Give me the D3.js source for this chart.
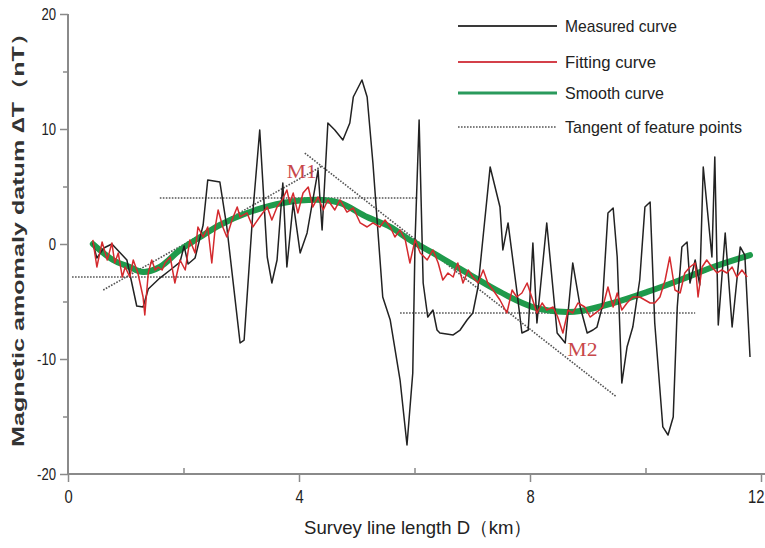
<!DOCTYPE html>
<html>
<head>
<meta charset="utf-8">
<script src="https://cdn.jsdelivr.net/npm/d3@7"></script>
<style>
  body { margin: 0; background: #fff; }
  svg { display: block; }
  text { font-family: "Liberation Sans Narrow", "Arial Narrow", "Liberation Sans", Arial, sans-serif; fill: #222; }
</style>
</head>
<body>
<svg id="chart"></svg>
<script>
// survey line positions (km) and measured anomaly (nT)
const measuredX = [0.43,0.50,0.62,0.76,1.02,1.19,1.30,1.39,1.59,1.77,1.94,2.01,2.08,2.20,2.34,2.42,2.63,2.75,2.98,3.05,
  3.20,3.32,3.45,3.53,3.62,3.72,3.79,3.90,4.02,4.14,4.33,4.40,4.50,4.62,4.76,4.88,4.94,5.09,5.18,5.28,
  5.45,5.58,5.75,5.87,5.97,6.01,6.08,6.15,6.23,6.32,6.39,6.44,6.67,6.79,6.91,7.01,7.10,7.17,7.31,7.48,
  7.53,7.62,7.77,7.86,7.97,8.05,8.12,8.29,8.47,8.61,8.74,8.87,8.99,9.09,9.16,9.25,9.35,9.44,9.51,9.59,
  9.68,9.78,9.90,9.99,10.08,10.16,10.30,10.39,10.48,10.55,10.63,10.72,10.77,10.86,10.94,11.00,11.15,11.20,11.26,11.38,
  11.50,11.64,11.72,11.81];
const measuredY = [0.09,-1.22,-0.35,0.0,-1.39,-5.39,-5.48,-3.91,-2.96,-2.26,-1.57,-0.17,-1.74,-1.22,1.65,5.57,5.39,1.48,-8.61,-8.35,
  2.70,9.91,-1.13,-3.39,-1.39,5.30,-2.0,3.57,-0.78,0.96,6.43,1.22,10.52,9.91,9.04,10.52,12.78,14.26,12.78,7.04,
  -4.61,-6.61,-11.83,-17.48,-11.22,0.35,10.78,-3.39,-6.35,-5.74,-7.48,-7.74,-7.91,-7.48,-6.61,-6.0,-3.74,-0.26,6.70,3.22,
  -0.52,1.83,-4.0,-7.74,-7.48,0.09,-6.87,1.83,-7.74,-8.61,-1.65,-5.48,-7.74,-7.48,-7.22,-5.48,2.70,3.13,-1.13,-12.09,
  -8.96,-7.22,-3.13,3.22,3.65,-6.87,-15.91,-16.61,-15.04,-5.48,-0.26,0.17,-3.39,-1.39,-3.57,6.70,-1.13,7.57,-7.04,0.96,
  -7.22,-0.26,-0.96,-9.83];

// fitting curve
const fittingX = [0.43,0.50,0.59,0.68,0.76,0.81,0.87,0.94,0.99,1.07,1.13,1.21,1.30,1.33,1.39,1.45,1.51,1.56,1.63,1.68,
  1.77,1.85,1.94,2.03,2.11,2.20,2.25,2.34,2.42,2.49,2.55,2.60,2.68,2.75,2.84,2.93,2.98,3.10,3.20,3.32,
  3.45,3.53,3.62,3.71,3.79,3.84,3.90,3.98,4.07,4.16,4.24,4.33,4.42,4.50,4.62,4.71,4.83,4.94,5.06,5.18,
  5.28,5.40,5.49,5.58,5.66,5.75,5.84,5.92,6.01,6.10,6.22,6.32,6.41,6.49,6.58,6.67,6.75,6.84,6.93,7.01,
  7.10,7.19,7.27,7.36,7.48,7.60,7.69,7.77,7.86,7.95,8.03,8.12,8.21,8.29,8.40,8.48,8.57,8.66,8.74,8.83,
  8.95,9.04,9.16,9.26,9.35,9.44,9.51,9.59,9.68,9.78,9.90,9.99,10.08,10.16,10.25,10.34,10.42,10.51,10.60,10.68,
  10.77,10.86,10.91,10.98,11.06,11.15,11.24,11.32,11.41,11.50,11.58,11.67,11.76];
const fittingY = [0.35,-2.0,0.17,-1.39,0.09,-1.65,-0.78,-2.87,-2.0,-2.87,-1.39,-2.52,-4.61,-6.17,-2.52,-1.39,-2.26,-2.0,-2.26,-1.65,
  -1.13,-3.39,-1.39,-2.26,0.35,-0.78,1.48,0.61,1.48,-1.65,1.48,2.96,1.48,0.61,2.09,3.22,2.35,2.70,1.48,2.35,
  3.22,2.09,3.22,3.83,4.70,3.57,4.43,2.70,4.43,4.96,3.22,4.09,2.96,3.83,2.96,3.83,2.78,3.13,1.83,1.48,
  1.83,1.48,2.09,1.48,0.61,1.22,0.35,-1.65,0.35,-0.78,-1.39,-0.52,-1.65,-3.13,-2.52,-2.87,-1.65,-3.39,-2.26,-2.87,
  -3.39,-2.26,-3.39,-4.0,-4.87,-6.0,-4.0,-4.61,-4.26,-3.39,-4.61,-6.0,-5.13,-5.74,-5.48,-6.35,-7.74,-5.74,-6.0,-5.13,
  -5.48,-6.35,-5.91,-5.48,-3.74,-5.48,-4.26,-5.74,-5.13,-4.61,-4.61,-4.87,-5.13,-5.13,-4.61,-3.13,-1.13,-4.0,-4.26,-2.52,
  -2.0,-1.65,-4.61,-2.0,-1.39,-2.0,-2.52,-2.26,-2.52,-2.0,-2.87,-2.26,-2.87];

// smooth curve
const smoothX = [0.43,0.78,1.07,1.30,1.59,1.94,2.29,2.63,3.10,3.72,4.42,4.71,5.18,5.58,5.92,6.32,6.91,7.48,8.05,8.64,8.87,9.44,10.03,10.60,11.17,11.81];
const smoothY = [0.0,-1.39,-2.0,-2.43,-2.0,-0.52,0.61,1.65,2.70,3.57,3.83,3.57,2.35,1.48,0.35,-0.78,-2.52,-4.17,-5.48,-5.91,-5.83,-5.13,-4.17,-3.13,-2.0,-0.96];

// tangent lines of feature points: [x1, y1, x2, y2]
const tangents = [
  [0.07, -2.87, 2.80, -2.87],
  [0.61, -4.0, 4.40, 6.78],
  [1.59, 4.0, 6.06, 4.0],
  [4.10, 7.91, 9.50, -13.3],
  [5.75, -6.0, 10.86, -6.0]
];
const featureLabels = [
  { text: "M1", x: 3.79, y: 5.75 },
  { text: "M2", x: 8.65, y: -9.75 }
];

const xTicks = [0, 2, 4, 6, 8, 10, 12];
const yTicks = [-20, -15, -10, -5, 0, 5, 10, 15, 20];
const legendNames = ["Measured curve", "Fitting curve", "Smooth curve", "Tangent of feature points"];

const width = 765;
const height = 548;

const svg = d3.select("#chart").attr("width", width).attr("height", height);

const x = d3.scaleLinear().domain([0, 12]).range([68, 761]);
const y = d3.scaleLinear().domain([-20, 20]).range([474, 14]);

const axisColor = "#8a8a8a";

// y axis
const yAxis = svg.append("g")
  .attr("transform", `translate(${x(0)},0)`)
  .call(d3.axisLeft(y).tickValues(yTicks).tickSize(7)
    .tickFormat(d => (d % 10 === 0 ? d : "")));
yAxis.select(".domain").attr("stroke", axisColor).attr("stroke-width", 2).attr("d", `M0,${y(20)}V${y(-20)}`);
yAxis.selectAll(".tick line").attr("stroke", axisColor).attr("stroke-width", 1.5)
  .attr("x2", d => (d % 10 === 0 ? -8 : -5));
yAxis.selectAll(".tick text")
  .attr("x", 0).attr("dy", null).attr("y", 0)
  .attr("transform", "translate(-12,5) scale(0.82,1)")
  .style("font-size", "16px");

// x axis
const xAxis = svg.append("g")
  .attr("transform", `translate(0,${y(-20)})`)
  .call(d3.axisBottom(x).tickValues(xTicks).tickSize(7)
    .tickFormat(d => (d % 4 === 0 ? d : "")));
xAxis.select(".domain").attr("stroke", axisColor).attr("stroke-width", 2).attr("d", `M${x(0)},0H${width}`);
xAxis.selectAll(".tick line").attr("stroke", axisColor).attr("stroke-width", 1.5)
  .attr("y2", d => (d % 4 === 0 ? 8 : -6));
xAxis.selectAll(".tick text")
  .attr("y", 0).attr("dy", null)
  .attr("text-anchor", d => (d === 12 ? "end" : "middle"))
  .attr("transform", d => (d === 12 ? "translate(3,29) scale(0.82,1)" : "translate(0,29) scale(0.82,1)"))
  .style("font-size", "18px");

// axis titles
svg.append("text")
  .attr("x", 418).attr("y", 534)
  .attr("text-anchor", "middle")
  .style("font-size", "19px")
  .attr("textLength", 228).attr("lengthAdjust", "spacingAndGlyphs")
  .text("Survey line length D（km）");

svg.append("text")
  .attr("transform", "translate(24,234) rotate(-90)")
  .attr("text-anchor", "middle")
  .style("font-family", "'Liberation Sans', Arial, sans-serif")
  .style("font-size", "17px")
  .style("font-weight", "bold")
  .style("fill", "#333")
  .attr("textLength", 426).attr("lengthAdjust", "spacingAndGlyphs")
  .text("Magnetic amomaly datum ∆T（nT）");

// tangents
svg.append("g").selectAll("line")
  .data(tangents)
  .join("line")
  .attr("x1", d => x(d[0])).attr("y1", d => y(d[1]))
  .attr("x2", d => x(d[2])).attr("y2", d => y(d[3]))
  .attr("stroke", "#555")
  .attr("stroke-width", 1.6)
  .attr("stroke-dasharray", "1.6,1.4");

const line = d3.line().x(d => x(d[0])).y(d => y(d[1]));

// smooth curve
svg.append("path")
  .datum(d3.zip(smoothX, smoothY))
  .attr("fill", "none")
  .attr("stroke", "#1f9a4b")
  .attr("stroke-width", 6)
  .attr("stroke-linecap", "round")
  .attr("d", line.curve(d3.curveCatmullRom.alpha(0.5)));

// measured curve
svg.append("path")
  .datum(d3.zip(measuredX, measuredY))
  .attr("fill", "none")
  .attr("stroke", "#222")
  .attr("stroke-width", 1.5)
  .attr("stroke-linejoin", "round")
  .attr("d", line.curve(d3.curveLinear));

// fitting curve
svg.append("path")
  .datum(d3.zip(fittingX, fittingY))
  .attr("fill", "none")
  .attr("stroke", "#d42a2e")
  .attr("stroke-width", 1.5)
  .attr("stroke-linejoin", "round")
  .attr("d", line.curve(d3.curveLinear));

// feature point labels
svg.append("g").selectAll("text")
  .data(featureLabels)
  .join("text")
  .attr("x", d => x(d.x)).attr("y", d => y(d.y))
  .style("font-family", "'Liberation Serif', 'DejaVu Serif', serif")
  .style("font-size", "18px")
  .style("fill", "#c8474a")
  .attr("textLength", 30).attr("lengthAdjust", "spacingAndGlyphs")
  .text(d => d.text);

// legend
const legendStyles = [
  { stroke: "#3a3a3a", width: 2, dash: null },
  { stroke: "#d4404a", width: 2, dash: null },
  { stroke: "#2a9a5c", width: 3, dash: null },
  { stroke: "#555", width: 1.6, dash: "1.6,1.4" }
];
const legendY = [26, 62, 93, 127];
const legendW = [112, 91, 99, 177];

const legend = svg.append("g").selectAll("g")
  .data(legendNames)
  .join("g")
  .attr("transform", (d, i) => `translate(458,${legendY[i]})`);

legend.append("line")
  .attr("x1", 0).attr("x2", 99)
  .attr("stroke", (d, i) => legendStyles[i].stroke)
  .attr("stroke-width", (d, i) => legendStyles[i].width)
  .attr("stroke-dasharray", (d, i) => legendStyles[i].dash);

legend.append("text")
  .attr("x", 107).attr("y", 6)
  .style("font-size", "17px")
  .attr("textLength", (d, i) => legendW[i]).attr("lengthAdjust", "spacingAndGlyphs")
  .text(d => d);
</script>
</body>
</html>
